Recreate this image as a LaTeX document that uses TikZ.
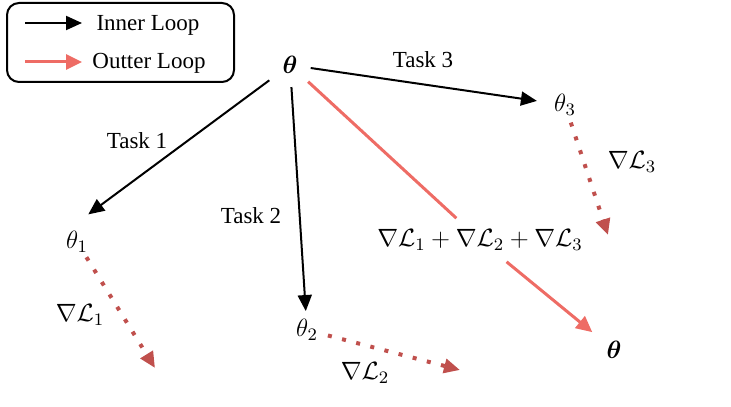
\documentclass[tikz,border=0pt]{standalone}
\usepackage{fix-cm}
\usepackage{amsmath}
\usepackage{fontspec}
\setmainfont{Liberation Serif}
\usepackage{tikz}
\usetikzlibrary{arrows.meta}
\definecolor{outcol}{HTML}{EE6C65}
\definecolor{gradcol}{HTML}{C0504D}

\tikzset{
  txt/.style={font=\fontsize{11.5}{14}\selectfont, inner sep=0pt},
  mth/.style={font=\fontsize{12.5}{15}\selectfont, inner sep=0pt},
  innerloop/.style={draw=black, line width=1pt, -{Triangle[length=8pt,width=7pt]}},
  outerloop/.style={draw=outcol, line width=1.5pt},
  outertip/.style={-{Triangle[length=8pt,width=7.5pt]}},
  gradline/.style={draw=gradcol, line width=2pt, dash pattern=on 2pt off 5.3pt, -{Triangle[length=8pt,width=7pt]}}
}

\begin{document}
\begin{tikzpicture}[x=0.5pt, y=-0.5pt]
  \useasboundingbox (0,0) rectangle (731,406);
  \draw[line width=1pt, rounded corners=6pt] (7,3) rectangle (234,82);
  \coordinate (la) at (25,23); \coordinate (lb) at (82,23);
  \coordinate (lc) at (25,62); \coordinate (ld) at (82,62);
  \draw[innerloop] (la) -- (lb);
  \draw[outerloop, outertip] (lc) -- (ld);
  \node[txt] (inlbl) at (148,25) {Inner Loop};
  \node[txt] (outlbl) at (149,63) {Outter Loop};

  \node[mth] (theta) at (290,65) {$\boldsymbol{\theta}$};
  \node[mth] (t1) at (77,242) {$\theta_1$};
  \node[mth] (t2) at (307,330) {$\theta_2$};
  \node[mth] (t3) at (565,105) {$\theta_3$};
  \node[mth] (thetanew) at (614,350) {$\boldsymbol{\theta}$};
  \node[mth, inner xsep=2pt, inner ysep=5.5pt] (sum) at (480,240) {$\nabla\mathcal{L}_1+\nabla\mathcal{L}_2+\nabla\mathcal{L}_3$};

  \node[txt] (task1) at (137,141) {Task 1};
  \node[txt] (task2) at (251,216) {Task 2};
  \node[txt] (task3) at (423,60) {Task 3};
  \node[mth] (g1) at (80,315) {$\nabla\mathcal{L}_1$};
  \node[mth] (g2) at (365,373) {$\nabla\mathcal{L}_2$};
  \node[mth] (g3) at (632,162) {$\nabla\mathcal{L}_3$};

  \coordinate (e1) at (155,368);
  \coordinate (e2) at (460,370);
  \coordinate (e3) at (608,235);

  \draw[innerloop, shorten <=8pt, shorten >=14pt] (theta) -- (t1.north west);
  \draw[innerloop, shorten <=6.5pt, shorten >=4pt] (theta) -- (t2);
  \draw[innerloop, shorten <=6.5pt, shorten >=8.5pt] (theta) -- (t3);
  \draw[outerloop, shorten <=7pt] (theta) -- (sum);
  \draw[outerloop, outertip, shorten >=9pt] (sum) -- (thetanew);
  \draw[gradline, shorten <=2.5pt] (t1) -- (e1);
  \draw[gradline, shorten <=5pt] (t2) -- (e2);
  \draw[gradline, shorten <=3.5pt] (t3) -- (e3);
\end{tikzpicture}
\end{document}
